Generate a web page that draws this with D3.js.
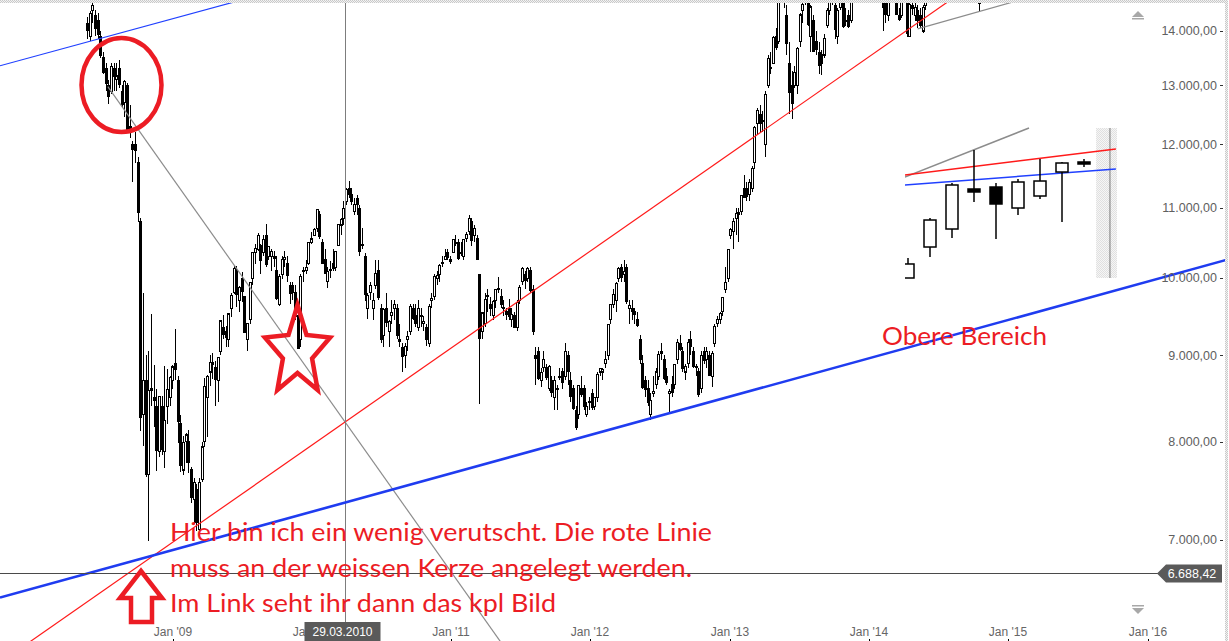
<!DOCTYPE html>
<html><head><meta charset="utf-8">
<script src="https://cdn.jsdelivr.net/npm/d3@7"></script>
<style>html,body{margin:0;padding:0;background:#fff;overflow:hidden}</style>
</head><body>
<svg id="chart" width="1229" height="641"></svg>
<script>
// ---------- DATA ----------
// weekly candles, first week starts Monday 2008-05-19
const firstWeek = "2008-05-19";
const weekOpen = [
 14150,13900,14400,14300,14200,13900,13500,13300,13000,12900,13300,13100,13300,12900,12700,13000,12300,12000,12000,11700,10800,8300,8700,7650,8600,8500,8400,7900,8400,7900,8400,8500,8700,
 8900,8700,8200,7700,8000,8000,7700,7400,7500,7100,7600,8000,8500,8800,8900,8850,8700,9050,9350,9300,9200,9600,9800,10100,9700,10000,9750,9200,9450,10000,10350,10400,10450,10350,10600,10300,10300,10300,10100,9650,10050,10250,10200,9900,9900,9800,9500,9200,10100,10100,10200,10500,
 10600,10700,10900,10500,10250,9950,10100,10200,10150,10450,10750,10850,11100,11300,11200,10950,11150,11000,10450,10300,9600,9800,9600,9900,10100,9600,9250,9600,9300,9500,9600,9600,9200,9100,9000,9200,9300,9600,9500,9350,9500,9400,9350,9150,9700,9750,10000,10050,10200,10250,10350,10250,
 10350,10500,10500,10350,10300,10550,10650,10800,10600,10550,10050,9300,9400,9750,9650,9500,9700,9850,9750,9600,9550,9600,9450,9500,9350,9700,9950,10050,10000,10100,9850,9000,9050,8700,8850,8850,8600,8700,8500,8600,8750,8800,8750,9000,8700,8600,8350,8300,8600,8600,8300,8450,
 8550,8400,8500,8800,8800,8900,9000,9450,9650,9700,10000,10150,10050,10150,9600,9600,9550,9450,9200,8900,8700,8600,8300,8550,8650,8750,9050,8950,8750,8550,8650,8650,8950,9150,9050,8800,8900,9200,9050,8850,8800,8600,9050,8950,9000,8750,9150,9400,9450,9550,9850,10000,
 10600,10650,10850,10900,10950,11300,11300,11200,11300,11700,12350,12500,12400,12000,13000,13300,13400,13900,13800,14650,15200,14300,13400,13000,13000,13000,13800,14400,14600,14650,13900,14200,13800,13600,13550,13550,14100,14400,14700,14500,13900,14450,14600,14200,14300,14200,15100,15500,15700,15400,15200,15900,
 16200,16000,15700,15800,15100,14800,14600,14300,14900,14700,15200,14300,14300,14800,14900,13900,14500,14300,14400,14300,14000,14500,14700,15100,15100,15300,15100,15400,15250,15300,15500,15400,14950,15300,15600,15450,15700,15950,16250,16200,15800,15100,14700
];
const weekHigh = [
 14270,14380,14601,14400,14350,14000,13600,13400,13100,13400,13400,13400,13450,13000,13100,13050,12650,12050,12200,11800,10850,9800,9000,9050,9520,8880,8600,8520,8520,8870,8840,8750,8880,
 9325,8750,8300,8060,8100,8130,7730,7620,7550,7620,8000,8730,8760,9000,9030,8930,8980,9450,9510,9370,9520,9800,10170,10170,9890,10080,9760,9400,9950,10360,10470,10640,10470,10600,10770,10450,10400,10370,10300,10060,10300,10380,10300,9950,9950,9900,9550,10050,10150,10250,10500,10650,
 10700,10990,10950,10550,10410,10150,10240,10400,10370,10760,10850,11100,11300,11408,11300,11150,11200,11050,10700,10350,9800,9950,9800,10250,10250,9650,9600,9800,9450,9700,9700,9650,9400,9150,9150,9300,9650,9650,9650,9700,9600,9500,9400,9650,9800,10050,10100,10200,10300,10400,10400,10300,
 10550,10600,10550,10500,10550,10650,10891,10850,10750,10600,10050,9550,9800,9850,9750,9700,9850,10017,9850,9700,9600,9720,9600,9550,9700,9900,10150,10100,10150,10150,9900,9100,9100,8850,9050,8900,8880,8750,8750,8650,8850,8850,9150,9050,8800,8650,8400,8650,8750,8650,8450,8500,
 8600,8500,8800,8850,8850,9050,9400,9650,9850,9950,10150,10200,10255,10200,9700,9700,9600,9550,9250,9000,8750,8700,8550,8750,8850,9050,9150,9000,8850,8600,8750,8900,9200,9250,9100,8900,9200,9300,9100,8900,8850,9050,9100,9100,9050,9050,9400,9500,9550,9750,10150,10400,
 10700,10850,11000,11000,11200,11500,11400,11450,11650,12300,12600,12650,12550,12900,13550,13600,13900,14050,14650,15150,15942,14500,13800,13250,13350,13700,14350,14550,14800,14700,14500,14300,14000,13800,13650,13950,14450,14750,14800,14550,14450,14600,14800,14450,14400,15200,15400,15700,15800,15650,15900,16200,
 16320,16000,15900,15900,15200,14900,14850,14900,15100,15300,15300,14450,14700,15100,15000,14550,14700,14550,14500,14450,14500,14700,15100,15200,15400,15400,15450,15450,15400,15500,15700,15450,15350,15600,15650,15750,15950,16350,16380,16300,15850,15200,15300
];
const weekLow = [
 13850,13820,14150,13900,13850,13500,13200,12900,12670,12850,12900,12900,12950,12600,12450,12200,12100,11400,11700,10800,8115,7960,7630,6995,8400,8160,7690,7840,7860,7720,8200,8400,8600,
 8700,7990,7680,7650,7770,7670,7360,7150,7090,7030,7580,7950,8050,8630,8720,8400,8450,9000,9200,9100,9100,9490,9780,9620,9550,9680,9300,9050,9400,9900,10200,10380,10050,10300,10150,10250,10100,10150,9700,9630,9990,10150,9950,9650,9700,9450,9076,9100,9950,10050,10180,10480,
 10600,10650,10550,10200,10050,9870,10000,10100,10100,10450,10600,10750,11050,11150,11050,10900,10900,10300,10400,9690,9460,9700,9450,9850,9700,9150,9100,9350,9100,9400,9450,9200,9100,8800,8850,9050,9250,9450,9350,9300,9350,9300,9120,9100,9600,9700,9900,9950,10150,10250,10250,10200,
 10350,10450,10250,10300,10250,10500,10600,10450,10500,10250,8420,9200,9350,9550,9500,9450,9600,9800,9600,9500,9450,9450,9350,9350,9300,9650,9900,9850,9950,9800,9250,8650,8700,8620,8800,8700,8570,8500,8350,8350,8700,8600,8700,8640,8450,8350,8135,8250,8500,8350,8280,8350,
 8350,8350,8450,8750,8700,8850,8950,9400,9600,9550,9950,9950,9950,9650,9400,9450,9400,9350,8900,8600,8500,8400,8238,8500,8600,8700,8950,8700,8650,8330,8500,8600,8900,9050,8800,8700,8850,9000,8850,8750,8500,8550,8900,8850,8750,8620,9100,9350,9400,9500,9800,9950,
 10550,10400,10600,10500,10900,11150,11100,11100,11250,11600,12150,12200,12200,11800,12950,13200,13400,13650,13750,14550,14450,13550,12500,12415,12950,12850,13700,14150,14500,14100,13600,13600,13550,13200,13188,13500,14050,14300,14500,13850,13750,14400,14050,14100,14050,14150,15050,15450,15100,15300,15100,15850,
 16150,15600,15400,15300,14800,13995,14150,14200,14700,14600,14300,14200,14250,14750,13885,13900,14300,14200,14050,14050,13964,14400,14700,14900,15000,15050,15050,15150,15150,15250,15450,14753,14900,15250,15400,15400,15650,15900,16100,15650,15250,14380,14650
];
const weekClose = [
 14012,14338,14489,14045,13942,13545,13237,13039,12803,13334,13154,13168,13019,12666,13072,12213,12214,11920,11893,10938,8276,8693,7649,8576,8583,8462,7910,8512,7917,8235,8588,8739,8859,
 8836,8230,7745,7994,8076,7779,7416,7568,7173,7569,7945,8626,8749,8916,8908,8707,8977,9432,9265,9225,9522,9768,10135,9786,9877,9816,9287,9395,9945,10357,10412,10597,10238,10534,10187,10444,10370,10265,9731,10016,10258,10282,10034,9789,9804,9497,9081,10022,10107,10142,10494,10546,
 10681,10982,10590,10198,10057,10092,10123,10126,10368,10751,10824,10996,11286,11204,11102,11057,11057,10364,10462,9784,9768,9901,9705,10064,9737,9203,9585,9408,9431,9537,9642,9253,9179,8991,9114,9239,9626,9471,9404,9589,9500,9426,9202,9625,9724,10022,10039,10178,10211,10303,10279,10229,
 10541,10499,10274,10360,10543,10605,10843,10527,10693,10254,9207,9536,9708,9768,9591,9682,9849,9859,9648,9607,9522,9492,9514,9351,9678,9868,10137,9974,10132,9833,9299,8963,8719,8797,8950,8737,8864,8560,8700,8605,8747,8678,9050,8801,8514,8374,8165,8643,8536,8401,8396,8455,
 8390,8500,8766,8841,8831,8947,9384,9647,9777,9929,10129,10012,10084,9688,9638,9561,9521,9380,8953,8611,8593,8440,8460,8569,8799,9007,9021,8725,8670,8567,8556,8891,9163,9070,8840,8871,9159,9110,8870,8863,8534,9002,8933,9051,8757,9024,9366,9446,9527,9737,9940,10395,
 10688,10801,10913,10926,11191,11153,11173,11385,11606,12283,12560,12338,12397,12833,13485,13316,13884,13694,14607,15138,14612,13774,12877,12686,13230,13677,14309,14506,14589,14129,14466,13615,13650,13360,13389,13860,14404,14742,14760,14024,14404,14561,14088,14201,14086,15165,15381,15661,15299,15403,15870,16178,
 16291,15912,15734,15391,14914,14462,14313,14865,14841,15274,14327,14224,14696,15063,13960,14516,14429,14457,14199,14097,14462,14632,15077,15097,15349,15095,15437,15164,15215,15457,15523,14778,15318,15539,15425,15669,15948,16321,16229,15708,15300,14532,15291
];

// value axis ticks and time axis ticks
const yTickValues = [7000, 8000, 9000, 10000, 11000, 12000, 13000, 14000];
const xTickYears = [2009, 2010, 2011, 2012, 2013, 2014, 2015, 2016];
const lastValue = 6688.42;
const markerDate = "2010-03-29";

// drawn trend lines: two anchor points [date, value]
const blueSupport = [["2008-10-27", 6840], ["2012-06-04", 8257]];
const blueChannel = [["2008-05-19", 13786], ["2009-01-05", 14244]];
const redTrend    = [["2010-03-29", 8220], ["2013-03-01", 12102]];
const grayDown    = [["2008-07-15", 12980], ["2010-03-29", 8220]];
const grayUp      = [["2014-05-08", 14040], ["2014-12-22", 14518]];

// pasted inset ("Obere Bereich"): monthly candles
const insetBars  = [1, 2, 3, 4, 5, 6, 7, 8, 9];
const insetOpen  = [16000, 17033, 17633, 18967, 19033, 18333, 18733, 19533, 19867];
const insetHigh  = [16667, 18000, 19167, 20267, 19167, 19300, 19967, 19867, 19967];
const insetLow   = [16000, 16700, 17333, 18533, 17300, 18100, 18633, 17867, 19700];
const insetClose = [16467, 17933, 19100, 18867, 18467, 19200, 19233, 19833, 19800];
const insetRed   = [[-0.14, 19433], [9.45, 20300]];
const insetBlue  = [[-0.14, 19100], [9.45, 19633]];
const insetGray  = [[-0.14, 19367], [5.5, 21000]];

const noteLines = [
  "Hier bin ich ein wenig verutscht. Die rote Linie",
  "muss an der weissen Kerze angelegt werden.",
  "Im Link seht ihr dann das kpl Bild"
];
const insetLabel = "Obere Bereich";

// ---------- CHART ----------
const W = 1229, H = 641;
const svg = d3.select("#chart");
const parse = d3.timeParse("%Y-%m-%d");
const de = d3.formatLocale({decimal: ",", thousands: ".", grouping: [3], currency: ["", ""]});
const fmt = de.format(",.2f");

const x = d3.scaleTime()
  .domain([new Date(2009, 0, 1), new Date(2016, 0, 1)])
  .range([172.7, 1147.7]);
const y = d3.scaleLog().domain([7000, 14000]).range([540, 31]);

const defs = svg.append("defs");
defs.append("clipPath").attr("id", "plot").append("rect")
  .attr("x", 0).attr("y", 3).attr("width", 1225).attr("height", H - 3);
const pat = defs.append("pattern").attr("id", "dots").attr("width", 2).attr("height", 2)
  .attr("patternUnits", "userSpaceOnUse");
pat.append("rect").attr("width", 2).attr("height", 2).attr("fill", "#f2f2f2");
pat.append("rect").attr("width", 1).attr("height", 1).attr("fill", "#c9c9c9");
pat.append("rect").attr("x", 1).attr("y", 1).attr("width", 1).attr("height", 1).attr("fill", "#c9c9c9");
const pat2 = defs.append("pattern").attr("id", "lightdots").attr("width", 2).attr("height", 2)
  .attr("patternUnits", "userSpaceOnUse");
pat2.append("rect").attr("width", 2).attr("height", 2).attr("fill", "#f6f6f6");
pat2.append("rect").attr("width", 1).attr("height", 1).attr("fill", "#e0e0e0");
pat2.append("rect").attr("x", 1).attr("y", 1).attr("width", 1).attr("height", 1).attr("fill", "#e0e0e0");

// borders
svg.append("rect").attr("x", 0).attr("y", 0).attr("width", 1227).attr("height", 3).attr("fill", "url(#dots)");
svg.append("rect").attr("x", 1225).attr("y", 0).attr("width", 3).attr("height", H).attr("fill", "url(#dots)");

const plot = svg.append("g").attr("clip-path", "url(#plot)");

// candles
const candles = weekClose.map((c, i) => ({
  date: d3.timeDay.offset(d3.timeWeek.offset(parse(firstWeek), i), 2),
  o: weekOpen[i], h: weekHigh[i], l: weekLow[i], c
}));
const cg = plot.append("g").attr("shape-rendering", "crispEdges");
cg.selectAll("line").data(candles).join("line")
  .attr("x1", d => Math.round(x(d.date)) + 0.5).attr("x2", d => Math.round(x(d.date)) + 0.5)
  .attr("y1", d => y(d.h)).attr("y2", d => y(d.l))
  .attr("stroke", "#000").attr("stroke-width", 1);
cg.selectAll("rect").data(candles).join("rect")
  .attr("x", d => Math.round(x(d.date)) - 0.5)
  .attr("y", d => y(Math.max(d.o, d.c)))
  .attr("width", 2.4)
  .attr("height", d => Math.max(1, Math.abs(y(d.o) - y(d.c))))
  .attr("fill", d => d.c >= d.o ? "#fff" : "#000")
  .attr("stroke", "#000").attr("stroke-width", 1.1);

// helper: extend a line through two data anchors over a pixel x-range
function trend(g, pts, x0, x1, color, width) {
  const p = pts.map(([d, v]) => [x(parse(d)), y(v)]);
  const m = (p[1][1] - p[0][1]) / (p[1][0] - p[0][0]);
  const f = xx => p[0][1] + m * (xx - p[0][0]);
  const a = x0 == null ? p[0][0] : x0;
  g.append("line").attr("x1", a).attr("y1", f(a)).attr("x2", x1).attr("y2", f(x1))
    .attr("stroke", color).attr("stroke-width", width);
}
trend(plot, grayDown, null, W, "#8c8c8c", 1.2);
trend(plot, grayUp, null, W, "#8c8c8c", 1.2);
trend(plot, redTrend, 0, W, "#ff1a1a", 1.2);
trend(plot, blueChannel, 0, W, "#2040ff", 1.2);

// marker vertical line
const mx = Math.round(x(parse(markerDate))) + 0.5;
plot.append("line").attr("x1", mx).attr("x2", mx).attr("y1", 0).attr("y2", H)
  .attr("stroke", "#7d7d7d").attr("stroke-width", 1);

// last value line
const ly = Math.round(y(lastValue)) + 0.5;
svg.append("line").attr("x1", 0).attr("x2", 1160).attr("y1", ly).attr("y2", ly)
  .attr("stroke", "#4a4a4a").attr("stroke-width", 1);

trend(plot, blueSupport, 0, W, "#1f3cf0", 2.6);

// y axis labels
const ya = svg.append("g");
yTickValues.forEach(v => {
  ya.append("text").attr("x", 1217).attr("y", y(v)).attr("dy", "0.35em")
    .attr("text-anchor", "end").attr("font-family", "Liberation Sans, Arial, sans-serif")
    .attr("font-size", 12.5).attr("fill", "#606060").text(fmt(v));
  ya.append("line").attr("x1", 1220).attr("x2", 1223).attr("y1", Math.round(y(v)) + 0.5)
    .attr("y2", Math.round(y(v)) + 0.5).attr("stroke", "#333");
});

// last value tag
const tg = svg.append("g");
tg.append("path").attr("d", `M1157,${ly} L1166,${ly - 9} L1222,${ly - 9} L1222,${ly + 9} L1166,${ly + 9} Z`)
  .attr("fill", "#5a5a5a");
tg.append("text").attr("x", 1192).attr("y", ly).attr("dy", "0.36em").attr("text-anchor", "middle")
  .attr("font-family", "Liberation Sans, Arial, sans-serif").attr("font-size", 12.5)
  .attr("fill", "#fff").text(fmt(lastValue));

// scroll arrows
const ar = svg.append("g").attr("fill", "#a8a8a8");
ar.append("path").attr("d", "M1132,17 L1144,17 L1138,11 Z");
ar.append("rect").attr("x", 1132).attr("y", 18).attr("width", 12).attr("height", 1.5);
ar.append("rect").attr("x", 1132).attr("y", 605).attr("width", 12).attr("height", 1.5);
ar.append("path").attr("d", "M1132,608 L1144,608 L1138,614 Z");

// x axis
const xa = svg.append("g");
xTickYears.forEach(yr => {
  const xx = Math.round(x(new Date(yr, 0, 1)));
  xa.append("text").attr("x", xx).attr("y", 636).attr("text-anchor", "middle")
    .attr("font-family", "Liberation Sans, Arial, sans-serif").attr("font-size", 12)
    .attr("fill", "#666").text("Jan '" + String(yr).slice(2));
  xa.append("rect").attr("x", xx).attr("y", 639).attr("width", 1).attr("height", 2).attr("fill", "#000");
});
// date box for the marker
const dg = svg.append("g");
dg.append("rect").attr("x", mx - 41).attr("y", 622).attr("width", 76).attr("height", 19).attr("fill", "#5a5a5a");
dg.append("text").attr("x", mx - 3).attr("y", 636).attr("text-anchor", "middle")
  .attr("font-family", "Liberation Sans, Arial, sans-serif").attr("font-size", 12)
  .attr("fill", "#fff").text(d3.timeFormat("%d.%m.%Y")(parse(markerDate)));

// ---------- INSET ----------
const ix = d3.scaleLinear().domain([1, 9]).range([908, 1084]);
const iy = d3.scaleLinear().domain([16000, 21000]).range([278, 128]);
defs.append("clipPath").attr("id", "inset").append("rect")
  .attr("x", 905).attr("y", 124).attr("width", 212).attr("height", 158);
const ig = svg.append("g").attr("clip-path", "url(#inset)");
ig.append("rect").attr("x", ix(9.55)).attr("y", 128).attr("width", ix(10.5) - ix(9.55)).attr("height", 150)
  .attr("fill", "url(#lightdots)");
ig.append("line").attr("x1", ix(10.18)).attr("x2", ix(10.18)).attr("y1", 128).attr("y2", 278)
  .attr("stroke", "#777").attr("stroke-width", 1);
[[insetGray, "#8c8c8c"], [insetRed, "#ff1a1a"], [insetBlue, "#2040ff"]].forEach(([pts, col]) => {
  ig.append("line").attr("x1", ix(pts[0][0] + 1)).attr("y1", iy(pts[0][1]))
    .attr("x2", ix(pts[1][0] + 1)).attr("y2", iy(pts[1][1]))
    .attr("stroke", col).attr("stroke-width", 1.5);
});
const icd = insetBars.map((b, i) => ({b, o: insetOpen[i], h: insetHigh[i], l: insetLow[i], c: insetClose[i]}));
ig.selectAll("line.w").data(icd).join("line").attr("class", "w")
  .attr("x1", d => ix(d.b)).attr("x2", d => ix(d.b)).attr("y1", d => iy(d.h)).attr("y2", d => iy(d.l))
  .attr("stroke", "#000").attr("stroke-width", 1.5);
ig.selectAll("rect.b").data(icd).join("rect").attr("class", "b")
  .attr("x", d => ix(d.b) - 6).attr("width", 12)
  .attr("y", d => iy(Math.max(d.o, d.c)))
  .attr("height", d => Math.max(2, Math.abs(iy(d.o) - iy(d.c))))
  .attr("fill", d => d.c >= d.o ? "#fff" : "#000")
  .attr("stroke", "#000").attr("stroke-width", 1.5);

// ---------- ANNOTATIONS ----------
const red = "#ec1c24";
const an = svg.append("g");
an.append("ellipse").attr("cx", 121.5).attr("cy", 85).attr("rx", 40).attr("ry", 47)
  .attr("fill", "none").attr("stroke", red).attr("stroke-width", 4.5);
// star
const starC = [297.5, 352], starR = 47, starr = 21, starSX = 0.73;
const starPts = d3.range(10).map(k => {
  const a = k * Math.PI / 5, r = k % 2 ? starr : starR;
  return [starC[0] + Math.sin(a) * r * starSX, starC[1] - Math.cos(a) * r];
});
an.append("path").attr("d", d3.line()(starPts) + "Z")
  .attr("fill", "none").attr("stroke", red).attr("stroke-width", 4.5).attr("stroke-linejoin", "miter");
// up arrow
const tip = [141, 571];
const arrowPts = [[0, 0], [21, 27], [11, 27], [11, 51], [-10, 51], [-10, 27], [-21, 27]]
  .map(([dx, dy]) => [tip[0] + dx, tip[1] + dy]);
an.append("path").attr("d", d3.line()(arrowPts) + "Z")
  .attr("fill", "none").attr("stroke", red).attr("stroke-width", 4.5);

const noteX = 170, noteY = [541, 577, 612], noteW = [542, 522, 386];
noteLines.forEach((t, i) => {
  an.append("text").attr("x", noteX).attr("y", noteY[i])
    .attr("font-family", "Lato, 'Open Sans', sans-serif").attr("font-size", 25)
    .attr("fill", red).attr("textLength", noteW[i]).attr("lengthAdjust", "spacingAndGlyphs").text(t);
});
an.append("text").attr("x", 882).attr("y", 345)
  .attr("font-family", "Lato, 'Open Sans', sans-serif").attr("font-size", 25)
  .attr("fill", red).attr("textLength", 165).attr("lengthAdjust", "spacingAndGlyphs").text(insetLabel);
</script>
</body></html>
